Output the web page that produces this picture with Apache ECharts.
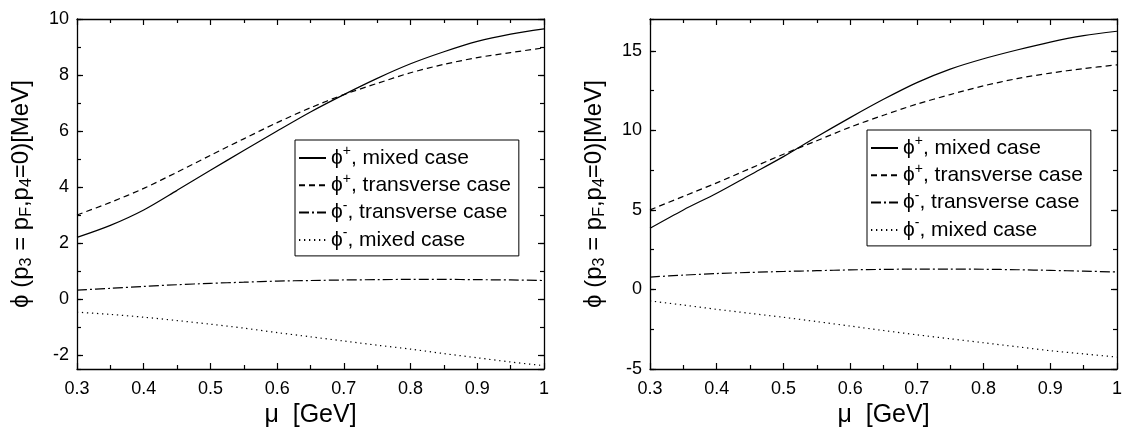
<!DOCTYPE html>
<html>
<head>
<meta charset="utf-8">
<script src="https://cdn.jsdelivr.net/npm/echarts@6/dist/echarts.min.js"></script>
<style>
  html, body { margin: 0; padding: 0; background: #fff; }
  #chart { width: 1124px; height: 428px; }
</style>
</head>
<body>
<div id="chart"></div>
<script>
// mu [GeV] sample points
var muValues = [0.3, 0.35, 0.4, 0.45, 0.5, 0.55, 0.6, 0.65, 0.7, 0.75, 0.8, 0.85, 0.9, 0.95, 1.0];

// left panel
var leftMixedPlus  = [2.2, 2.63, 3.18, 3.88, 4.6, 5.3, 6.0, 6.68, 7.3, 7.88, 8.4, 8.83, 9.2, 9.46, 9.65];
var leftTransPlus  = [3.0, 3.45, 3.95, 4.53, 5.13, 5.72, 6.3, 6.83, 7.3, 7.7, 8.08, 8.38, 8.62, 8.8, 8.97];
var leftTransMinus = [0.32, 0.38, 0.45, 0.51, 0.56, 0.6, 0.64, 0.66, 0.68, 0.69, 0.7, 0.7, 0.69, 0.68, 0.66];
var leftMixedMinus = [-0.47, -0.55, -0.65, -0.77, -0.9, -1.04, -1.2, -1.35, -1.5, -1.65, -1.79, -1.95, -2.1, -2.25, -2.38];

// right panel
var rightMixedPlus  = [3.85, 5.0, 6.05, 7.2, 8.35, 9.6, 10.8, 11.95, 13.0, 13.85, 14.5, 15.05, 15.55, 15.95, 16.23];
var rightTransPlus  = [5.0, 5.85, 6.7, 7.6, 8.5, 9.35, 10.2, 10.95, 11.65, 12.25, 12.8, 13.25, 13.6, 13.88, 14.12];
var rightTransMinus = [0.78, 0.9, 1.0, 1.07, 1.13, 1.18, 1.23, 1.26, 1.28, 1.28, 1.27, 1.24, 1.2, 1.15, 1.1];
var rightMixedMinus = [-0.72, -0.98, -1.25, -1.5, -1.75, -2.02, -2.3, -2.58, -2.85, -3.1, -3.35, -3.6, -3.85, -4.05, -4.25];

var seriesKeys = ['mp', 'tp', 'tm', 'mm'];
var legendTexts = {
  mp: '{phi|ϕ}{sup|+}, mixed case',
  tp: '{phi|ϕ}{sup|+}, transverse case',
  tm: '{phi|ϕ}{sup|-}, transverse case',
  mm: '{phi|ϕ}{sup|-}, mixed case'
};
var lineTypes = { mp: 'solid', tp: [6, 4], tm: [10, 3, 2, 3], mm: [1.3, 3.7] };

var FONT = 'Liberation Sans, Arial, sans-serif';
var chart = echarts.init(document.getElementById('chart'));

function pairs(vals) {
  return muValues.map(function (m, i) { return [m, vals[i]]; });
}

function xAx(grid, pos, labels) {
  return {
    type: 'value', gridIndex: grid, position: pos,
    min: 0.3, max: 1, interval: 0.1,
    axisLine: { show: true, onZero: false, lineStyle: { color: '#000', width: 1.3 } },
    axisTick: { show: true, inside: true, length: 6, lineStyle: { color: '#000', width: 1.2 } },
    minorTick: { show: true, splitNumber: 2, length: 4, lineStyle: { color: '#000', width: 1.2 } },
    splitLine: { show: false },
    axisLabel: { show: labels, color: '#000', fontSize: 18, fontFamily: FONT, margin: 11 },
    name: labels ? 'μ  [GeV]' : '',
    nameLocation: 'middle', nameGap: 32,
    nameTextStyle: { color: '#000', fontSize: 25, fontFamily: FONT }
  };
}

function yAx(grid, pos, range, scaleOpt, major, labels) {
  var a = {
    type: 'value', gridIndex: grid, position: pos,
    min: range[0], max: range[1],
    axisLine: { show: major, onZero: false, lineStyle: { color: '#000', width: 1.3 } },
    axisTick: { show: true, inside: true, length: major ? 6 : 4, lineStyle: { color: '#000', width: 1.2 } },
    splitLine: { show: false },
    axisLabel: { show: labels, color: '#000', fontSize: 18, fontFamily: FONT, margin: 8,
      showMinLabel: range[0] % 5 === 0, showMaxLabel: range[1] % 5 === 0 }
  };
  for (var k in scaleOpt) a[k] = scaleOpt[k];
  if (labels) {
    a.name = 'ϕ (p{s|3} = p{s|F},p{s|4}=0)[MeV]';
    a.nameLocation = 'middle';
    a.nameGap = 42;
    a.nameTextStyle = {
      color: '#000', fontSize: 24, fontFamily: FONT, lineHeight: 28,
      rich: { s: { fontSize: 16, fontFamily: FONT, lineHeight: 2, verticalAlign: 'bottom', color: '#000' } }
    };
  }
  return a;
}

var leftRange = [-2.5, 10], rightRange = [-5, 17];
var leftMajor = { splitNumber: 6 }, leftMinor = { splitNumber: 12 };
var rightMajor = { interval: 5 }, rightMinor = { interval: 2.5 };

var xAxes = [xAx(0, 'bottom', true), xAx(0, 'top', false), xAx(1, 'bottom', true), xAx(1, 'top', false)];
var yAxes = [
  yAx(0, 'left', leftRange, leftMajor, true, true),
  yAx(0, 'left', leftRange, leftMinor, false, false),
  yAx(0, 'right', leftRange, leftMajor, true, false),
  yAx(0, 'right', leftRange, leftMinor, false, false),
  yAx(1, 'left', rightRange, rightMajor, true, true),
  yAx(1, 'left', rightRange, rightMinor, false, false),
  yAx(1, 'right', rightRange, rightMajor, true, false),
  yAx(1, 'right', rightRange, rightMinor, false, false)
];

var panels = [
  { x: 0, y: 0, data: { mp: leftMixedPlus, tp: leftTransPlus, tm: leftTransMinus, mm: leftMixedMinus } },
  { x: 2, y: 4, data: { mp: rightMixedPlus, tp: rightTransPlus, tm: rightTransMinus, mm: rightMixedMinus } }
];
var series = [];
panels.forEach(function (p) {
  seriesKeys.forEach(function (key) {
    series.push({
      name: key, type: 'line', xAxisIndex: p.x, yAxisIndex: p.y,
      data: pairs(p.data[key]), smooth: 0.3, symbol: 'none', showSymbol: false,
      lineStyle: { color: '#000', width: 1.2, type: lineTypes[key] },
      itemStyle: { color: '#000' }, silent: true
    });
  });
});

function legendAt(left, top) {
  return {
    data: seriesKeys, left: left, top: top, orient: 'vertical',
    selectedMode: false, itemWidth: 27, itemHeight: 14, itemGap: 0.3,
    padding: [4.5, 8, 2.5, 3], borderColor: '#000', borderWidth: 1, backgroundColor: '#fff',
    itemStyle: { opacity: 0 },
    formatter: function (name) { return legendTexts[name]; },
    textStyle: {
      color: '#000', fontSize: 21, fontFamily: FONT, lineHeight: 27,
      rich: {
        phi: { fontSize: 21, fontFamily: FONT, color: '#000', lineHeight: 27 },
        sup: { fontSize: 14, fontFamily: FONT, color: '#000', lineHeight: 2, verticalAlign: 'top' }
      }
    }
  };
}

chart.setOption({
  animation: false,
  backgroundColor: '#fff',
  grid: [
    { left: 77, top: 19, width: 467, height: 350, outerBoundsMode: 'none' },
    { left: 650, top: 19, width: 467, height: 350, outerBoundsMode: 'none' }
  ],
  xAxis: xAxes,
  yAxis: yAxes,
  legend: [legendAt(295, 140), legendAt(867, 130)],
  series: series
});
</script>
</body>
</html>
